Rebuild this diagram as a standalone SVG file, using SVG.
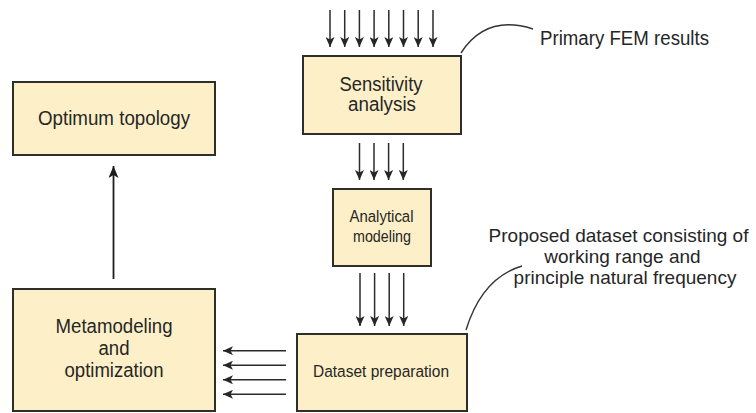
<svg xmlns="http://www.w3.org/2000/svg" width="756" height="413" viewBox="0 0 756 413">
  <defs>
    <marker id="head" viewBox="0 0 10 9" refX="10" refY="4.5" markerWidth="10" markerHeight="9" markerUnits="userSpaceOnUse" orient="auto">
      <path d="M0,0 L10,4.5 L0,9 L2.5,4.5 Z" fill="#262626"/>
    </marker>
    <marker id="headBig" viewBox="0 0 12 10" refX="12" refY="5" markerWidth="12" markerHeight="10" markerUnits="userSpaceOnUse" orient="auto">
      <path d="M0,0 L12,5 L0,10 L3,5 Z" fill="#1e1e1e"/>
    </marker>
    <style>
      .box { fill: #fdf0c8; stroke: #2e2e2a; stroke-width: 2; }
      .lbl { font-family: "Liberation Sans", Arial, sans-serif; fill: #262626; text-anchor: middle; }
      .big { font-size: 20px; }
      .small { font-size: 16.3px; }
      .note { font-size: 19px; }
      .arr { stroke: #2b2b2b; stroke-width: 1.5; fill: none; marker-end: url(#head); }
      .call { stroke: #333; stroke-width: 1.4; fill: none; }
    </style>
  </defs>

  <g id="optimum-topology">
    <rect class="box" x="13" y="82" width="202" height="73"/>
    <text class="lbl big" x="114" y="125" textLength="152" lengthAdjust="spacingAndGlyphs">Optimum topology</text>
  </g>

  <g id="metamodeling">
    <rect class="box" x="13" y="289" width="202" height="122"/>
    <text class="lbl big" x="114" y="333" textLength="117" lengthAdjust="spacingAndGlyphs">Metamodeling</text>
    <text class="lbl big" x="114" y="355" textLength="31" lengthAdjust="spacingAndGlyphs">and</text>
    <text class="lbl big" x="114" y="377" textLength="99" lengthAdjust="spacingAndGlyphs">optimization</text>
  </g>

  <g id="sensitivity-analysis">
    <rect class="box" x="303" y="56" width="158" height="78"/>
    <text class="lbl big" x="381" y="91" textLength="83" lengthAdjust="spacingAndGlyphs">Sensitivity</text>
    <text class="lbl big" x="382" y="111" textLength="68" lengthAdjust="spacingAndGlyphs">analysis</text>
  </g>

  <g id="analytical-modeling">
    <rect class="box" x="333" y="189" width="98" height="77"/>
    <text class="lbl small" x="381.5" y="222" textLength="64" lengthAdjust="spacingAndGlyphs">Analytical</text>
    <text class="lbl small" x="382" y="242" textLength="58" lengthAdjust="spacingAndGlyphs">modeling</text>
  </g>

  <g id="dataset-preparation">
    <rect class="box" x="297" y="334" width="170" height="77"/>
    <text class="lbl" style="font-size:16.8px" x="381" y="377" textLength="136" lengthAdjust="spacingAndGlyphs">Dataset preparation</text>
  </g>

  <g id="primary-fem-note">
    <text class="lbl big" style="text-anchor:start" x="540" y="45" textLength="169" lengthAdjust="spacingAndGlyphs">Primary FEM results</text>
  </g>

  <g id="dataset-note">
    <text class="lbl note" x="618.5" y="242">Proposed dataset consisting of</text>
    <text class="lbl note" x="622.5" y="263">working range and</text>
    <text class="lbl note" x="625" y="284">principle natural frequency</text>
  </g>

  <g id="connectors">
    <!-- FEM results into sensitivity analysis -->
    <line class="arr" x1="330" y1="10" x2="330" y2="47"/>
    <line class="arr" x1="344.7" y1="10" x2="344.7" y2="47"/>
    <line class="arr" x1="359.4" y1="10" x2="359.4" y2="47"/>
    <line class="arr" x1="374.1" y1="10" x2="374.1" y2="47"/>
    <line class="arr" x1="388.8" y1="10" x2="388.8" y2="47"/>
    <line class="arr" x1="403.5" y1="10" x2="403.5" y2="47"/>
    <line class="arr" x1="418.2" y1="10" x2="418.2" y2="47"/>
    <line class="arr" x1="433" y1="10" x2="433" y2="47"/>

    <!-- sensitivity analysis to analytical modeling -->
    <line class="arr" x1="359.5" y1="143" x2="359.5" y2="180"/>
    <line class="arr" x1="374" y1="143" x2="374" y2="180"/>
    <line class="arr" x1="388.6" y1="143" x2="388.6" y2="180"/>
    <line class="arr" x1="403.3" y1="143" x2="403.3" y2="180"/>

    <!-- analytical modeling to dataset preparation -->
    <line class="arr" x1="360" y1="273" x2="360" y2="326"/>
    <line class="arr" x1="374.6" y1="273" x2="374.6" y2="326"/>
    <line class="arr" x1="389.2" y1="273" x2="389.2" y2="326"/>
    <line class="arr" x1="403.7" y1="273" x2="403.7" y2="326"/>

    <!-- dataset preparation to metamodeling -->
    <line class="arr" x1="286" y1="350.7" x2="223" y2="350.7"/>
    <line class="arr" x1="286" y1="365.2" x2="223" y2="365.2"/>
    <line class="arr" x1="286" y1="379.8" x2="223" y2="379.8"/>
    <line class="arr" x1="286" y1="394.3" x2="223" y2="394.3"/>

    <!-- metamodeling to optimum topology -->
    <line x1="113.5" y1="279" x2="113.5" y2="166" stroke="#1e1e1e" stroke-width="1.8" marker-end="url(#headBig)"/>

    <!-- note leaders -->
    <path class="call" d="M461,53 Q486,14 533,29"/>
    <path class="call" d="M466,330 Q482,278 522,266"/>
  </g>
</svg>
